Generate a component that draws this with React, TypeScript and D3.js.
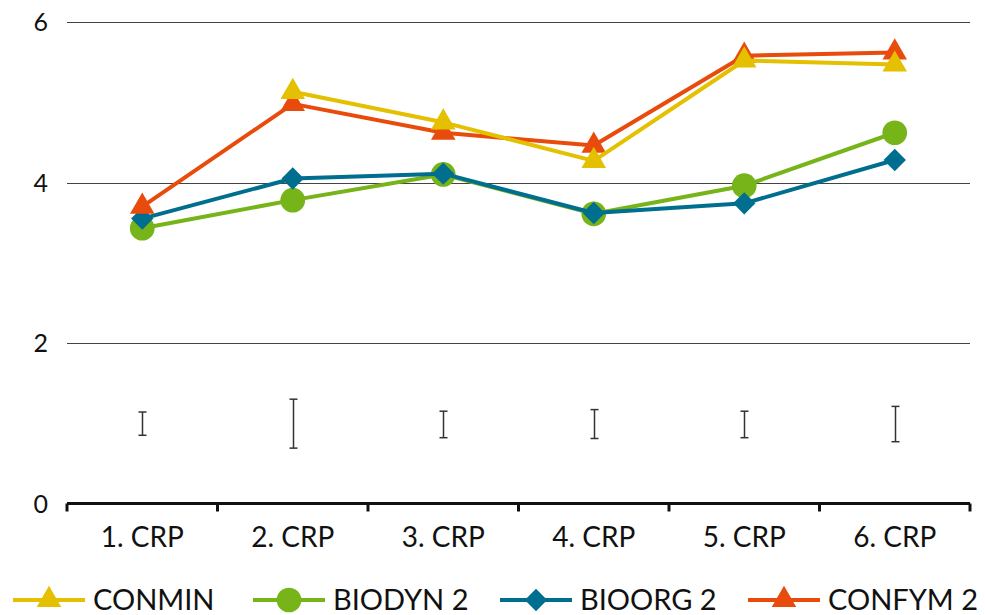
import React, { useEffect, useRef } from 'react';
import * as d3 from 'd3';

// chart data
const categories = ['1. CRP', '2. CRP', '3. CRP', '4. CRP', '5. CRP', '6. CRP'];
const conmin = [null, 5.13, 4.75, 4.27, 5.52, 5.47];
const biodyn = [3.43, 3.78, 4.1, 3.61, 3.96, 4.62];
const bioorg = [3.55, 4.05, 4.11, 3.62, 3.74, 4.28];
const confym = [3.7, 4.98, 4.62, 4.46, 5.58, 5.62];
const errLow = [0.85, 0.69, 0.82, 0.81, 0.82, 0.77];
const errHigh = [1.14, 1.3, 1.15, 1.17, 1.15, 1.21];
const yTicks = [0, 2, 4, 6];

const seriesList = [
  { name: 'CONMIN', values: conmin, color: '#E4C000', shape: 'triangle' },
  { name: 'BIODYN 2', values: biodyn, color: '#76B41A', shape: 'circle' },
  { name: 'BIOORG 2', values: bioorg, color: '#006E8E', shape: 'diamond' },
  { name: 'CONFYM 2', values: confym, color: '#E84B0C', shape: 'triangle' },
];
// draw order so that markers overlap like the original
const drawOrder = [1, 2, 3, 0];

const FONT = 'Lato, "Noto Sans", sans-serif';

const App = () => {
  const svgRef = useRef(null);

  useEffect(() => {
    const width = 985;
    const height = 615;
    const margin = { top: 22, right: 15, bottom: 112, left: 67 };

    const svg = d3.select(svgRef.current);
    svg.selectAll('*').remove();

    const x = d3
      .scaleBand()
      .domain(categories)
      .range([margin.left, width - margin.right]);

    const y = d3
      .scaleLinear()
      .domain([0, 6])
      .range([height - margin.bottom + 0.5, margin.top]);

    const cx = (i) => x(categories[i]) + x.bandwidth() / 2;

    // gridlines
    svg
      .append('g')
      .selectAll('line')
      .data(yTicks.filter((t) => t > 0))
      .enter()
      .append('line')
      .attr('x1', margin.left)
      .attr('x2', width - margin.right)
      .attr('y1', (d) => Math.round(y(d)) + 0.5)
      .attr('y2', (d) => Math.round(y(d)) + 0.5)
      .attr('stroke', '#444')
      .attr('stroke-width', 1.2);

    // y labels
    svg
      .append('g')
      .selectAll('text')
      .data(yTicks)
      .enter()
      .append('text')
      .attr('x', 48)
      .attr('y', (d) => y(d))
      .attr('dy', '0.36em')
      .attr('text-anchor', 'end')
      .attr('font-family', FONT)
      .attr('font-size', 25)
      .attr('fill', '#111')
      .text((d) => d);

    // x axis
    const xAxis = svg
      .append('g')
      .attr('transform', `translate(0,${y(0)})`)
      .call(
        d3
          .axisBottom(x)
          .tickSize(0)
          .tickFormat(() => '')
      );
    xAxis.select('.domain').remove();
    xAxis
      .append('line')
      .attr('x1', margin.left)
      .attr('x2', width - margin.right)
      .attr('stroke', '#111')
      .attr('stroke-width', 3);
    const boundaries = categories.map((c) => x(c)).concat([width - margin.right]);
    xAxis
      .selectAll('.bound')
      .data(boundaries)
      .enter()
      .append('line')
      .attr('class', 'bound')
      .attr('x1', (d) => d)
      .attr('x2', (d) => d)
      .attr('y1', 0)
      .attr('y2', 8)
      .attr('stroke', '#111')
      .attr('stroke-width', 3);

    svg
      .append('g')
      .selectAll('text')
      .data(categories)
      .enter()
      .append('text')
      .attr('x', (d, i) => cx(i))
      .attr('y', 547)
      .attr('text-anchor', 'middle')
      .attr('font-family', FONT)
      .attr('font-size', 28)
      .attr('fill', '#111')
      .text((d) => d);

    // error bars
    const eb = svg.append('g').attr('stroke', '#333').attr('stroke-width', 1.5);
    categories.forEach((c, i) => {
      const px = Math.round(cx(i)) + 0.5;
      eb.append('line').attr('x1', px).attr('x2', px).attr('y1', y(errLow[i])).attr('y2', y(errHigh[i]));
      [errLow[i], errHigh[i]].forEach((v) => {
        eb.append('line')
          .attr('x1', px - 4)
          .attr('x2', px + 4)
          .attr('y1', y(v))
          .attr('y2', y(v));
      });
    });

    const symbolFor = (shape) => {
      if (shape === 'circle') return d3.symbol(d3.symbolCircle, 480)();
      if (shape === 'diamond') return d3.symbol(d3.symbolSquare, 250)();
      return d3.symbol(d3.symbolTriangle, 260)();
    };

    const drawMarker = (g, shape, color, px, py) => {
      g.append('path')
        .attr('d', symbolFor(shape))
        .attr('fill', color)
        .attr(
          'transform',
          `translate(${px},${py})` + (shape === 'diamond' ? ' rotate(45)' : '')
        );
    };

    const line = d3
      .line()
      .defined((d) => d != null)
      .x((d, i) => cx(i))
      .y((d) => y(d));

    drawOrder.forEach((si) => {
      const s = seriesList[si];
      const g = svg.append('g');
      g.append('path')
        .datum(s.values)
        .attr('fill', 'none')
        .attr('stroke', s.color)
        .attr('stroke-width', 4)
        .attr('stroke-linejoin', 'round')
        .attr('d', line);
      s.values.forEach((v, i) => {
        if (v == null) return;
        drawMarker(g, s.shape, s.color, cx(i), y(v));
      });
    });

    // legend
    const legendX = [13, 253, 500, 748];
    const legY = 600;
    seriesList.forEach((s, i) => {
      const g = svg.append('g');
      const lx = legendX[i];
      g.append('line')
        .attr('x1', lx)
        .attr('x2', lx + 72)
        .attr('y1', legY)
        .attr('y2', legY)
        .attr('stroke', s.color)
        .attr('stroke-width', 4);
      drawMarker(g, s.shape, s.color, lx + 36, legY);
      g.append('text')
        .attr('x', lx + 80)
        .attr('y', 610)
        .attr('font-family', FONT)
        .attr('font-size', 29)
        .attr('fill', '#111')
        .text(s.name);
    });
  }, []);

  return (
    <svg
      ref={svgRef}
      width={985}
      height={615}
      style={{ position: 'absolute', left: 0, top: 0, background: '#fff' }}
    ></svg>
  );
};

export default App;
